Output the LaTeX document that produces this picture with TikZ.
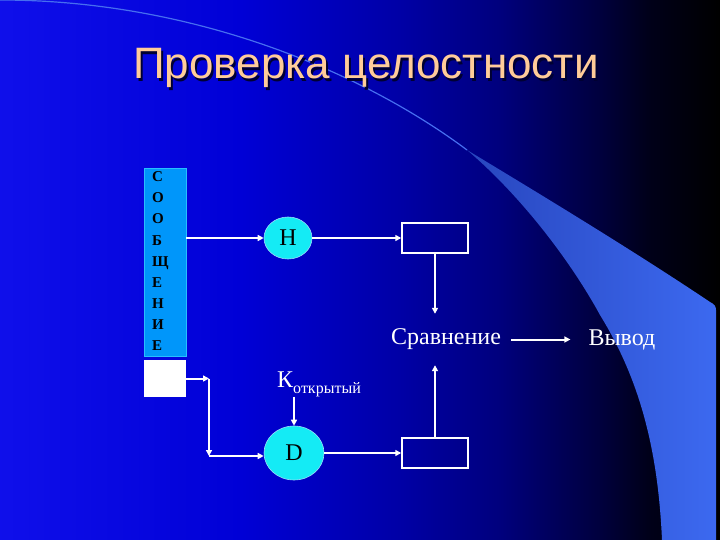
\documentclass[tikz,border=0pt]{standalone}
\usepackage{fontspec}
\setmainfont{Liberation Serif}
\newfontfamily\titlefont{Liberation Sans}
\usetikzlibrary{shapes.geometric,arrows.meta}

\definecolor{titlepeach}{RGB}{255,204,153}
\definecolor{titleshade}{RGB}{0,0,50}
\definecolor{swooshdark}{RGB}{40,70,190}
\definecolor{swooshlight}{RGB}{60,105,240}
\definecolor{linehigh}{RGB}{70,110,240}
\definecolor{msgblue}{RGB}{0,150,250}
\definecolor{msgedge}{RGB}{40,190,255}
\definecolor{hashcyan}{RGB}{20,235,245}

\pgfdeclarehorizontalshading{slidebg}{100bp}{rgb(0bp)=(0.06,0.06,0.92); rgb(25bp)=(0.06,0.06,0.92); rgb(41.67bp)=(0,0,0.84); rgb(52.78bp)=(0,0,0.65); rgb(59.72bp)=(0,0,0.49); rgb(66.67bp)=(0,0,0.24); rgb(70bp)=(0,0,0.1); rgb(75bp)=(0,0,0); rgb(100bp)=(0,0,0)}

\tikzset{
  wire/.style={draw=white,line width=2pt,-{Triangle[length=6pt,width=6pt]}},
  hashnode/.style={ellipse,fill=hashcyan,draw=cyan!40!white,line width=0.6pt,inner sep=0pt,font=\fontsize{24}{28}\selectfont,text=black},
  valbox/.style={rectangle,draw=white,line width=1.5pt,minimum width=66pt,minimum height=30pt,inner sep=0pt},
  msgletter/.style={anchor=base west,inner sep=0pt,font=\fontsize{15}{17}\selectfont\bfseries,text=black},
  lbl/.style={text=white,font=\fontsize{24}{28}\selectfont,inner xsep=10pt,inner ysep=15pt}
}

\begin{document}
\begin{tikzpicture}[x=1pt,y=-1pt]
  % background and swoosh
  \shade[shading=slidebg] (0,0) rectangle (720,540);
  \useasboundingbox (0,0) rectangle (720,540);
  \shade[left color=swooshdark,right color=swooshlight] (467,150) .. controls (550,200) and (640,255) .. (710,302)
    .. controls (714,304) and (716,306) .. (716,310) -- (716,540) -- (662,540)
    .. controls (658,450) and (640,380) .. (600,315) .. controls (570,260) and (520,195) .. (467,150) -- cycle;
  \draw[linehigh,line width=1.2pt] (0,0) .. controls (190,0) and (360,70) .. (467,150);

  % title
  \node[font=\titlefont\fontsize{44}{50}\selectfont,text=titleshade,anchor=base] (titleshadow) at (368,82) {Проверка целостности};
  \node[font=\titlefont\fontsize{44}{50}\selectfont,text=titlepeach,anchor=base] (title) at (366,79) {Проверка целостности};

  % message and signature blocks
  \node[draw=msgedge,fill=msgblue,line width=0.6pt,minimum width=42pt,minimum height=188pt,inner sep=0pt] (msg) at (165,262) {};
  \foreach \ch [count=\i from 0] in {С,О,О,Б,Щ,Е,Н,И,Е}
    \node[msgletter] (l\i) at (152,182+21*\i) {\ch};
  \node[fill=white,minimum width=42pt,minimum height=37pt,inner sep=0pt] (sig) at (165,378.5) {};

  % hash branch
  \node[hashnode,minimum width=48pt,minimum height=42pt] (H) at (288,238) {H};
  \node[valbox] (hbox) at (435,238) {};
  \draw[wire] (msg.east |- H) -- (H);
  \draw[wire] (H) -- (hbox);

  % comparison and output
  \node[lbl] (cmp) at (446,339.5) {Сравнение};
  \node[lbl,inner xsep=18pt] (out) at (622,339.5) {Вывод};
  \draw[wire] (hbox.south) -- (hbox.south |- cmp.north);
  \draw[wire] (cmp) -- (out);

  % decryption branch
  \coordinate (c1) at (209,378.5);
  \coordinate (c2) at (209,456);
  \node[hashnode,minimum width=60pt,minimum height=54pt] (D) at (294,453) {D};
  \node[valbox] (dbox) at (435,453) {};
  \node[anchor=base west,inner sep=0pt,text=white] (key) at (277,387)
    {\fontsize{24}{28}\selectfont К\raisebox{-6pt}{\fontsize{16}{18}\selectfont открытый}};
  \draw[wire] (sig.east) -- (c1);
  \draw[wire] (c1) -- (c2);
  \draw[wire] (c2) -- (c2 -| D.west);
  \draw[wire] (key.south -| D.north) -- (D.north);
  \draw[wire] (D) -- (dbox);
  \draw[wire] (dbox.north) -- (dbox.north |- cmp.south);
\end{tikzpicture}
\end{document}
